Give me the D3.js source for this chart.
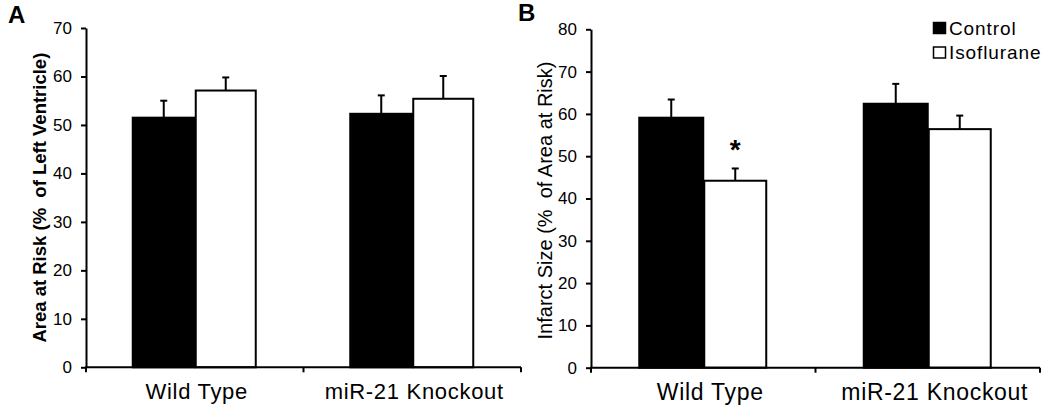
<!DOCTYPE html>
<html>
<head>
<meta charset="utf-8">
<script src="https://cdn.jsdelivr.net/npm/d3@7"></script>
<style>
  html, body { margin: 0; padding: 0; background: #fff; }
  svg { display: block; }
  text { font-family: Arial, "Liberation Sans", sans-serif; fill: #000; }
</style>
</head>
<body>
<svg id="chart" width="1050" height="410"></svg>
<script>
// ---- Data ----
const categories = ["Wild Type", "miR-21 Knockout"];
const series = ["Control", "Isoflurane"];

// Panel A: Area at Risk (% of Left Ventricle)
const aControl = [51.5, 52.3];
const aControlErr = [3.5, 3.8];
const aIso = [57.1, 55.4];
const aIsoErr = [2.7, 4.7];
const aTicks = [0, 10, 20, 30, 40, 50, 60, 70];

// Panel B: Infarct Size (% of Area at Risk)
const bControl = [59.1, 62.4];
const bControlErr = [4.3, 4.7];
const bIso = [44.2, 56.4];
const bIsoErr = [2.9, 3.2];
const bTicks = [0, 10, 20, 30, 40, 50, 60, 70, 80];
const bSignificant = [[false, true], [false, false]]; // [category][series]

const svg = d3.select("#chart");

function panel(opts) {
  const g = svg.append("g");
  const x = d3.scaleBand().domain(categories).range([opts.left, opts.right]).paddingInner(0).paddingOuter(0);
  const xs = d3.scaleBand().domain(series).range([0, x.bandwidth()]).paddingInner(0).paddingOuter(0.754);
  const y = d3.scaleLinear().domain([0, opts.max]).range([opts.bottom, opts.top]);

  const rows = [];
  categories.forEach((c, i) => {
    rows.push({ c, s: "Control", v: opts.control[i], e: opts.controlErr[i], sig: opts.sig ? opts.sig[i][0] : false });
    rows.push({ c, s: "Isoflurane", v: opts.iso[i], e: opts.isoErr[i], sig: opts.sig ? opts.sig[i][1] : false });
  });

  // error bars (upward only) drawn first
  const eb = g.append("g").attr("stroke", "#000").attr("stroke-width", 2).attr("fill", "none");
  rows.forEach(d => {
    const cx = x(d.c) + xs(d.s) + xs.bandwidth() / 2;
    eb.append("line").attr("x1", cx).attr("x2", cx).attr("y1", y(d.v)).attr("y2", y(d.v + d.e));
    eb.append("line").attr("x1", cx - 3.5).attr("x2", cx + 3.5).attr("y1", y(d.v + d.e)).attr("y2", y(d.v + d.e));
  });

  // bars
  g.append("g").selectAll("rect").data(rows).join("rect")
    .attr("x", d => x(d.c) + xs(d.s) + (d.s === "Isoflurane" ? 1 : 0))
    .attr("y", d => y(d.v))
    .attr("width", d => xs.bandwidth() - (d.s === "Isoflurane" ? 2 : 0))
    .attr("height", d => y(0) - y(d.v))
    .attr("fill", d => d.s === "Control" ? "#000" : "#fff")
    .attr("stroke", "#000")
    .attr("stroke-width", 2);

  // significance
  rows.filter(d => d.sig).forEach(d => {
    const cx = x(d.c) + xs(d.s) + xs.bandwidth() / 2;
    g.append("text").attr("x", cx).attr("y", y(d.v + d.e) - 22)
      .attr("text-anchor", "middle").attr("font-size", 28).attr("font-weight", "bold")
      .attr("dy", "0.45em")
      .text("*");
  });

  // y axis
  const ya = g.append("g").attr("transform", `translate(${opts.left},0)`)
    .call(d3.axisLeft(y).tickValues(opts.ticks).tickSize(5).tickPadding(9).tickSizeOuter(0));
  ya.select(".domain").attr("stroke-width", 2);
  ya.selectAll(".tick line").attr("stroke-width", 2);
  ya.selectAll(".tick text").attr("font-size", 17).attr("font-family", "Arial, 'Liberation Sans', sans-serif");

  // x axis
  const xa = g.append("g").attr("transform", `translate(0,${opts.bottom})`);
  xa.append("line").attr("x1", opts.left - 1).attr("x2", opts.right).attr("y1", 0).attr("y2", 0)
    .attr("stroke", "#000").attr("stroke-width", 2);
  const bounds = [x(categories[0])].concat(categories.map(c => x(c) + x.bandwidth()));
  bounds.forEach(b => {
    xa.append("line").attr("x1", b).attr("x2", b).attr("y1", 0).attr("y2", 5)
      .attr("stroke", "#000").attr("stroke-width", 2);
  });
  categories.forEach(c => {
    xa.append("text").attr("x", x(c) + x.bandwidth() / 2 + opts.labelDx).attr("y", 32)
      .attr("text-anchor", "middle").attr("font-size", opts.catSize).attr("letter-spacing", "0.7px")
      .text(c);
  });

  // y title
  g.append("text")
    .attr("transform", `translate(${opts.titleX},${(opts.top + opts.bottom) / 2 + opts.titleDy}) rotate(-90)`)
    .attr("text-anchor", "middle").attr("dy", "0.35em")
    .attr("font-size", opts.titleSize).attr("font-weight", opts.titleWeight)
    .attr("xml:space", "preserve")
    .style("white-space", "pre")
    .text(opts.title);

  // panel letter
  g.append("text").attr("x", opts.letterX).attr("y", opts.letterY)
    .attr("font-size", 24).attr("font-weight", "bold").text(opts.letter);

  return { x, y };
}

panel({
  left: 86, right: 521, top: 28, bottom: 367.3, max: 70, ticks: aTicks,
  control: aControl, controlErr: aControlErr, iso: aIso, isoErr: aIsoErr,
  title: "Area at Risk (%  of Left Ventricle)", titleX: 40, titleWeight: "bold", titleSize: 18.5, titleDy: 0,
  letter: "A", letterX: 8, letterY: 23, catSize: 22, labelDx: 2
});

panel({
  left: 591, right: 1040, top: 29.3, bottom: 367.7, max: 80, ticks: bTicks,
  control: bControl, controlErr: bControlErr, iso: bIso, isoErr: bIsoErr, sig: bSignificant,
  title: "Infarct Size (%  of Area at Risk)", titleX: 545, titleWeight: "normal", titleSize: 20, titleDy: 2,
  letter: "B", letterX: 518, letterY: 21, catSize: 23, labelDx: 7
});

// legend
const legend = svg.append("g").attr("transform", "translate(933,22)");
series.forEach((s, i) => {
  const row = legend.append("g").attr("transform", `translate(0,${i * 24.5})`);
  row.append("rect").attr("x", 0.5).attr("y", 0.5).attr("width", 12).attr("height", 11)
    .attr("fill", s === "Control" ? "#000" : "#fff").attr("stroke", "#000").attr("stroke-width", 1.5);
  row.append("text").attr("x", 16).attr("y", 12.5).attr("font-size", 19).attr("letter-spacing", "0.9px").text(s);
});
</script>
</body>
</html>
